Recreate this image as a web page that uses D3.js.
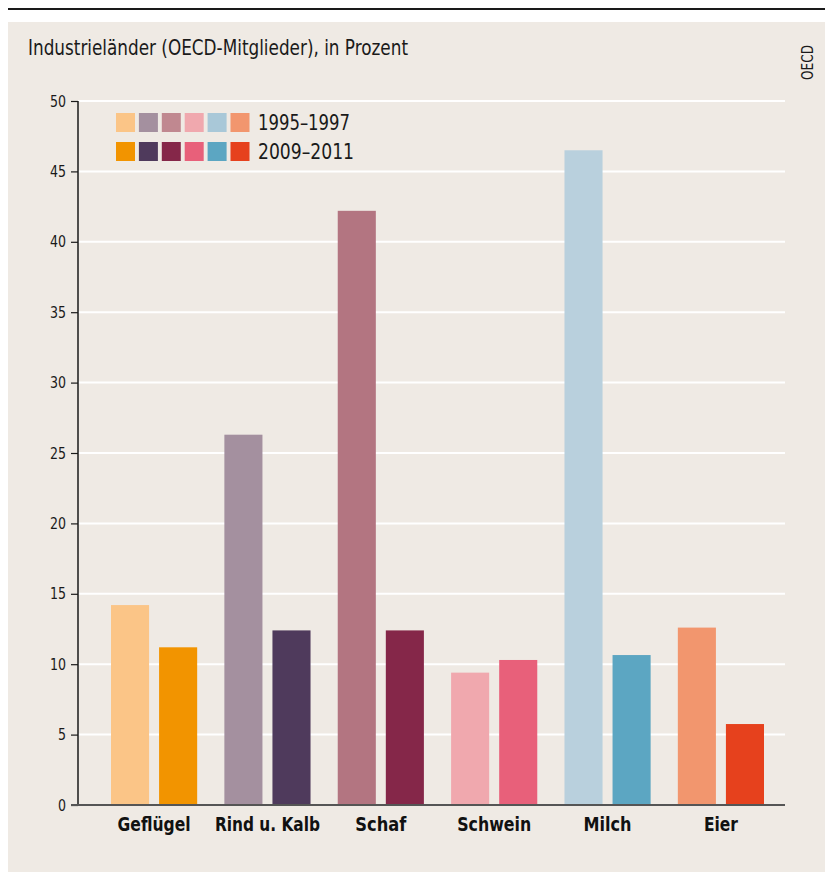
<!DOCTYPE html>
<html>
<head>
<meta charset="utf-8">
<script src="https://cdn.jsdelivr.net/npm/d3@7"></script>
<style>
  html, body { margin: 0; padding: 0; background: #ffffff; }
  svg { display: block; }
  text { font-family: "DejaVu Sans Condensed", "Liberation Sans Narrow", "Roboto", sans-serif; }
</style>
</head>
<body>
<svg id="chart" width="825" height="874"></svg>
<script>
const categories = ["Geflügel", "Rind u. Kalb", "Schaf", "Schwein", "Milch", "Eier"];
const series = ["1995–1997", "2009–2011"];
const values1995 = [14.2, 26.3, 42.2, 9.4, 46.5, 12.6];
const values2009 = [11.2, 12.4, 12.4, 10.3, 10.65, 5.75];
const colors1995 = ["#fbc587", "#a4909f", "#b37581", "#f0a8ae", "#b9d0dd", "#f2966e"];
const colors2009 = ["#f29400", "#4f3a5c", "#852749", "#e8607a", "#5ca6c2", "#e6411d"];
const legendColors1995 = ["#fbc587", "#a4909f", "#c08890", "#f0a8ae", "#a9c8d8", "#f2966e"];
const yTicks = [0, 5, 10, 15, 20, 25, 30, 35, 40, 45, 50];
const title = "Industrieländer (OECD-Mitglieder), in Prozent";
const source = "OECD";
// approximate rendered widths of the condensed original typeface
const labelWidths = [73, 105, 51, 74, 48, 34];
const seriesWidths = [92, 96];

const FONT = "\"DejaVu Sans Condensed\", \"Liberation Sans Narrow\", sans-serif";
const svg = d3.select("#chart");

// top rule
svg.append("rect").attr("x", 8).attr("y", 8).attr("width", 817).attr("height", 2).attr("fill", "#1a1a1a");
// panel
svg.append("rect").attr("x", 8).attr("y", 22).attr("width", 817).attr("height", 850).attr("fill", "#efeae4");

svg.append("text").attr("x", 28).attr("y", 55).attr("font-size", 21).attr("fill", "#1a1a1a")
  .attr("textLength", 380).attr("lengthAdjust", "spacingAndGlyphs").text(title);

svg.append("text")
  .attr("transform", "translate(813,62.5) rotate(-90)")
  .attr("text-anchor", "middle")
  .attr("font-size", 15).attr("fill", "#1a1a1a")
  .attr("textLength", 35).attr("lengthAdjust", "spacingAndGlyphs").text(source);

const y = d3.scaleLinear().domain([0, 50]).range([805, 101]);
const x0 = d3.scaleBand().domain(categories).range([97.4, 777.6]).paddingInner(0.24).paddingOuter(0.12);
const x1 = d3.scaleBand().domain(series).range([0, x0.bandwidth()]).paddingInner(0.208);

// gridlines
svg.append("g").selectAll("line").data(yTicks.filter(d => d > 0)).join("line")
  .attr("x1", 78).attr("x2", 785)
  .attr("y1", d => y(d)).attr("y2", d => y(d))
  .attr("stroke", "#ffffff").attr("stroke-width", 2);

// bars
const groups = svg.append("g").selectAll("g").data(categories).join("g")
  .attr("transform", d => `translate(${x0(d)},0)`);
groups.append("rect")
  .attr("x", x1(series[0])).attr("width", x1.bandwidth())
  .attr("y", (d, i) => y(values1995[i])).attr("height", (d, i) => y(0) - y(values1995[i]))
  .attr("fill", (d, i) => colors1995[i]);
groups.append("rect")
  .attr("x", x1(series[1])).attr("width", x1.bandwidth())
  .attr("y", (d, i) => y(values2009[i])).attr("height", (d, i) => y(0) - y(values2009[i]))
  .attr("fill", (d, i) => colors2009[i]);

// y axis
const yAxis = d3.axisLeft(y).tickValues(yTicks).tickSize(7).tickPadding(5);
const ya = svg.append("g").attr("transform", "translate(78,0)").call(yAxis);
ya.select(".domain").attr("stroke", "#1a1a1a").attr("stroke-width", 1.5).attr("d", "M0,101V805");
ya.selectAll(".tick line").attr("stroke", "#1a1a1a").attr("stroke-width", 1.2);
ya.selectAll(".tick text").attr("font-size", 16).attr("fill", "#1a1a1a")
  .style("font-family", FONT)
  .attr("textLength", d => d >= 10 ? 16 : 8).attr("lengthAdjust", "spacingAndGlyphs");

// baseline
svg.append("line").attr("x1", 71).attr("x2", 785).attr("y1", y(0)).attr("y2", y(0))
  .attr("stroke", "#555555").attr("stroke-width", 2);

// x labels
const xAxis = d3.axisBottom(x0).tickSize(0).tickPadding(12);
const xa = svg.append("g").attr("transform", `translate(0,${y(0)})`).call(xAxis);
xa.select(".domain").remove();
xa.selectAll(".tick text").attr("font-size", 20).attr("font-weight", "bold").attr("fill", "#111")
  .style("font-family", FONT)
  .attr("textLength", (d, i) => labelWidths[i]).attr("lengthAdjust", "spacingAndGlyphs");

// legend
const lg = svg.append("g");
const rows = [legendColors1995, colors2009];
rows.forEach((cols, r) => {
  lg.append("g").selectAll("rect").data(cols).join("rect")
    .attr("x", (d, i) => 116 + i * 22.9).attr("y", 113 + r * 29)
    .attr("width", 19).attr("height", 19).attr("fill", d => d);
  lg.append("text").attr("x", 258).attr("y", 130 + r * 29)
    .attr("font-size", 22).attr("fill", "#1a1a1a")
    .attr("textLength", seriesWidths[r]).attr("lengthAdjust", "spacingAndGlyphs").text(series[r]);
});
</script>
</body>
</html>
